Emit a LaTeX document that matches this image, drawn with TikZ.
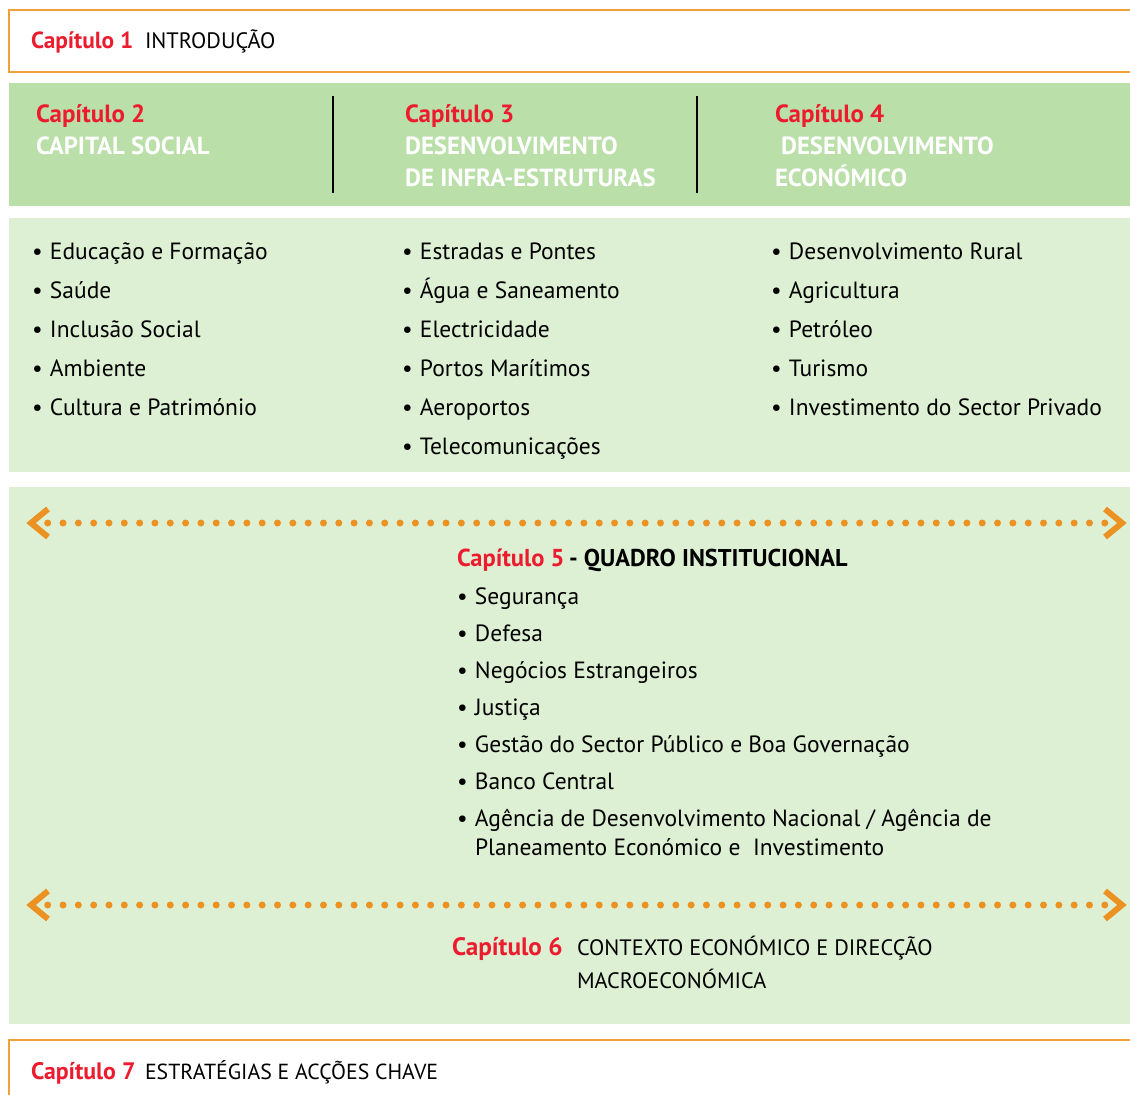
\documentclass[tikz,border=0pt]{standalone}
\usepackage{fontspec}
\setmainfont{PT Sans}
\definecolor{capred}{RGB}{236,28,46}
\definecolor{boxorange}{RGB}{242,160,60}
\definecolor{arroworange}{RGB}{236,146,34}
\definecolor{headgreen}{RGB}{186,223,169}
\definecolor{lightgreen}{RGB}{222,240,212}
\newcommand{\fsz}[1]{\fontsize{#1}{#1}\selectfont}
\begin{document}
\begin{tikzpicture}[x=1pt,y=-1pt,
  txt/.style={anchor=base west,inner sep=0pt,outer sep=0pt,font=\fsz{22.3}},
  chap/.style={txt,text=capred,font=\fsz{#1}\bfseries},
  chap/.default=23.3,
  hd/.style={txt,text=white,font=\fsz{24.8}\bfseries},
  item/.style={txt,font=\fsz{23.5}},
  frameline/.style={draw=boxorange,line width=2.5pt},
  dots/.style={draw=arroworange,line width=7pt,line cap=round,dash pattern=on 0pt off 15.32pt},
  chev/.style={draw=arroworange,line width=6pt,line join=miter}]
\useasboundingbox (0,0) rectangle (1130,1095);
\fill[white] (0,0) rectangle (1130,1095);
% backgrounds
\fill[headgreen] (9,83) rectangle (1130,206);
\fill[lightgreen] (9,218) rectangle (1130,472);
\fill[lightgreen] (9,487) rectangle (1130,1024);
% frames
\draw[frameline] (1130,10) -- (9,10) -- (9,72) -- (1130,72);
\draw[frameline] (1130,1040) -- (9,1040) -- (9,1095);
% dividers
\draw[line width=1.5pt] (333,96) -- (333,193);
\draw[line width=1.5pt] (697,96) -- (697,193);
% chapter 1
\node[chap] (c1) at (31,48) {Capítulo 1};
\node[txt] (c1t) at (145,48) {INTRODUÇÃO};
% headers
\node[chap=24.9] (c2) at (36,122) {Capítulo 2};
\node[hd] (c2t) at (36,154) {CAPITAL SOCIAL};
\node[chap=24.9] (c3) at (405,122) {Capítulo 3};
\node[hd] (c3t) at (405,154) {DESENVOLVIMENTO};
\node[hd] (c3u) at (405,186.5) {DE INFRA-ESTRUTURAS};
\node[chap=24.9] (c4) at (775,122) {Capítulo 4};
\node[hd] (c4t) at (781,154) {DESENVOLVIMENTO};
\node[hd] (c4u) at (775,186.5) {ECONÓMICO};
% columns
\foreach \t [count=\i] in {Educação e Formação,Saúde,Inclusão Social,Ambiente,Cultura e Património}{
  \node[item] (a\i) at (32,220+39*\i) {\makebox[18pt][l]{•}\t};
}
\foreach \t [count=\i] in {Estradas e Pontes,Água e Saneamento,Electricidade,Portos Marítimos,Aeroportos,Telecomunicações}{
  \node[item] (b\i) at (402,220+39*\i) {\makebox[18pt][l]{•}\t};
}
\foreach \t [count=\i] in {Desenvolvimento Rural,Agricultura,Petróleo,Turismo,Investimento do Sector Privado}{
  \node[item] (d\i) at (771,220+39*\i) {\makebox[18pt][l]{•}\t};
}
% arrow 1
\coordinate (l1) at (47.7,523);
\coordinate (r1) at (1105,523);
\draw[dots] (l1) -- (r1);
\draw[chev] (48,509) -- (31,523) -- (48,537);
\draw[chev] (1105,509) -- (1122,523) -- (1105,537);
% chapter 5
\node[chap=24.5] (c5) at (457,566) {Capítulo 5};
\node[txt,font=\fsz{24.3}\bfseries] (c5t) at (569,566) {- QUADRO INSTITUCIONAL};
\foreach \t [count=\i] in {Segurança,Defesa,Negócios Estrangeiros,Justiça,Gestão do Sector Público e Boa Governação,Banco Central,Agência de Desenvolvimento Nacional / Agência de}{
  \node[item] (e\i) at (457,567+37*\i) {\makebox[18pt][l]{•}\t};
}
\node[item] (e8) at (475,855) {Planeamento Económico e \ Investimento};
% arrow 2
\coordinate (l2) at (47.7,905);
\coordinate (r2) at (1105,905);
\draw[dots] (l2) -- (r2);
\draw[chev] (48,891) -- (31,905) -- (48,919);
\draw[chev] (1105,891) -- (1122,905) -- (1105,919);
% chapter 6
\node[chap=25.2] (c6) at (452,955) {Capítulo 6};
\node[txt] (c6t) at (577,955) {CONTEXTO ECONÓMICO E DIRECÇÃO};
\node[txt] (c6u) at (577,988) {MACROECONÓMICA};
% chapter 7
\node[chap=23.8] (c7) at (31,1079) {Capítulo 7};
\node[txt,font=\fsz{21.8}] (c7t) at (145,1079) {ESTRATÉGIAS E ACÇÕES CHAVE};
\end{tikzpicture}
\end{document}
